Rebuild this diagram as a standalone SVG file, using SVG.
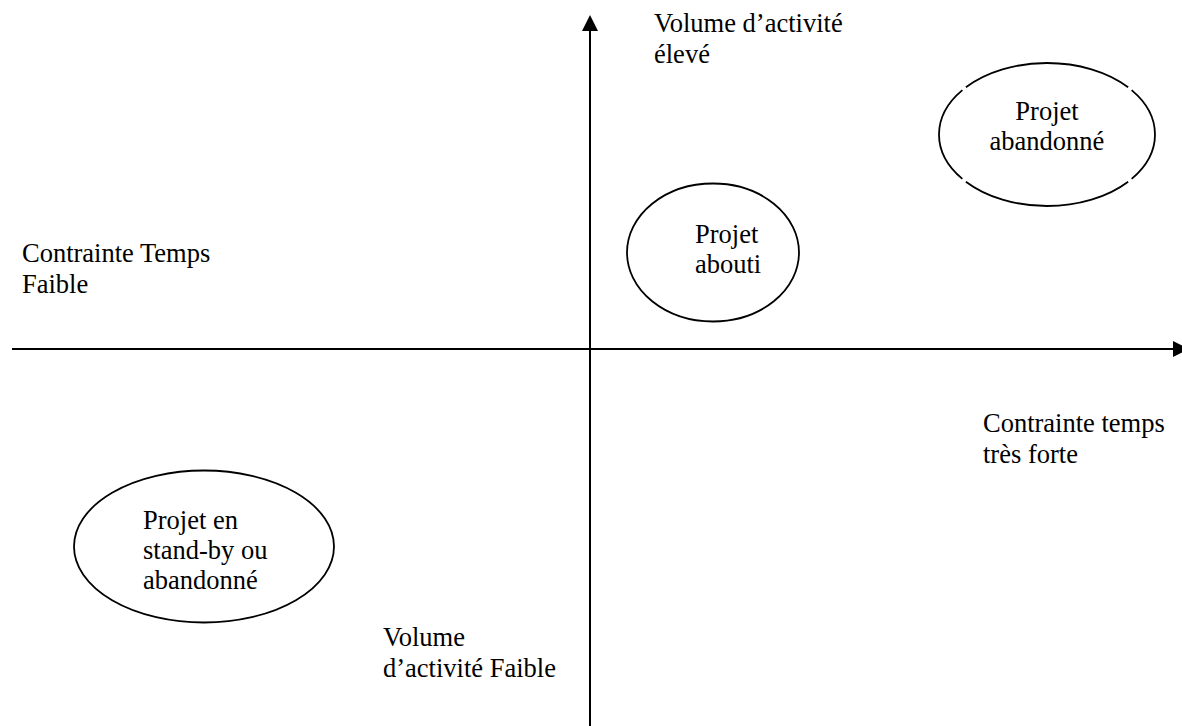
<svg xmlns="http://www.w3.org/2000/svg" width="1182" height="726" viewBox="0 0 1182 726">
<style>
text{font-family:"Liberation Serif","Times New Roman",serif;font-size:26.5px;fill:#000}
.ell{fill:none;stroke:#000;stroke-width:1.8}
.axis{stroke:#000;stroke-width:2;fill:none}
</style>
<defs>
<marker id="arr" viewBox="0 0 16 16" refX="0" refY="8" markerWidth="16" markerHeight="16" markerUnits="userSpaceOnUse" orient="auto">
<path d="M0,0 L16,8 L0,16 Z" fill="#000"/>
</marker>
</defs>
<rect width="1182" height="726" fill="#fff"/>
<g id="connectors">
<line class="axis" x1="590" y1="726" x2="590" y2="31" marker-end="url(#arr)"/>
<line class="axis" x1="12" y1="349" x2="1173" y2="349" marker-end="url(#arr)"/>
</g>
<g id="label-volume-eleve">
<text x="654" y="32">Volume d’activité</text>
<text x="654" y="63">élevé</text>
</g>
<g id="label-contrainte-faible">
<text x="22" y="262">Contrainte Temps</text>
<text x="22" y="293">Faible</text>
</g>
<g id="label-contrainte-forte">
<text x="983" y="432">Contrainte temps</text>
<text x="983" y="463">très forte</text>
</g>
<g id="label-volume-faible">
<text x="383" y="646">Volume</text>
<text x="383" y="677">d’activité Faible</text>
</g>
<g id="node-abandonne">
<ellipse class="ell" cx="1047" cy="134.5" rx="108" ry="71.5" pathLength="360" stroke-dasharray="32.9 2.8 108.6 2.8 65.8 2.8 108.6 2.8 32.9"/>
<text x="1047" y="120" text-anchor="middle">Projet</text>
<text x="1047" y="150" text-anchor="middle">abandonné</text>
</g>
<g id="node-abouti">
<ellipse class="ell" cx="713" cy="252.5" rx="86" ry="69"/>
<text x="695" y="243">Projet</text>
<text x="695" y="273">abouti</text>
</g>
<g id="node-standby">
<ellipse class="ell" cx="204" cy="546.5" rx="130" ry="76"/>
<text x="143" y="529">Projet en</text>
<text x="143" y="559">stand-by ou</text>
<text x="143" y="589">abandonné</text>
</g>
</svg>
